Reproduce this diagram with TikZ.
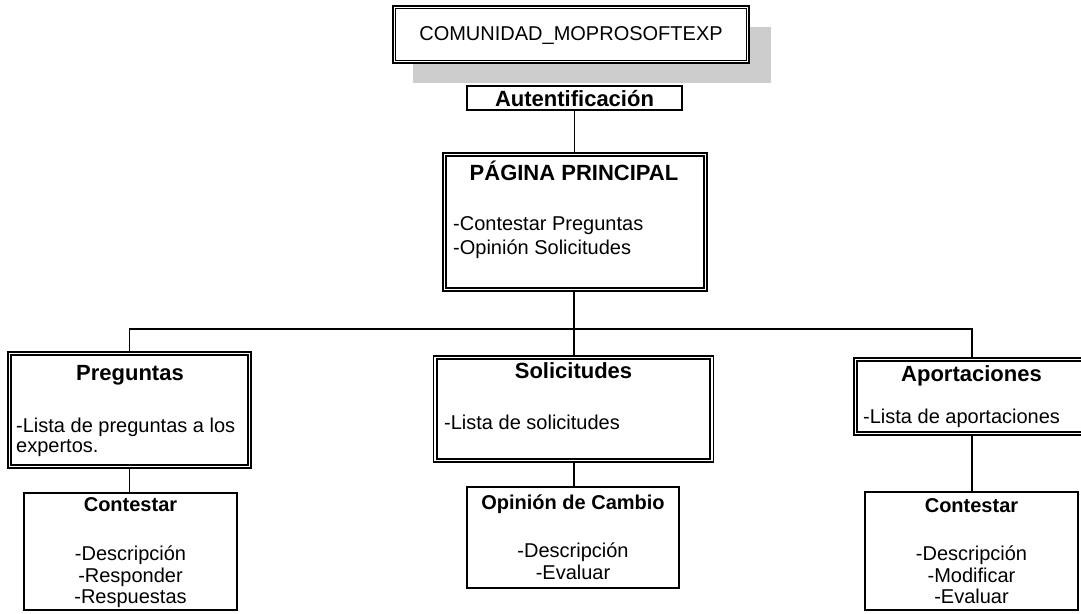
\documentclass[tikz,border=0pt]{standalone}
\usepackage{fontspec}
\setmainfont{Liberation Sans}
\begin{document}
\begin{tikzpicture}[x=1pt,y=-1pt,
  conn/.style={line width=1.7pt},
  outerbox/.style={draw, line width=1.3pt, fill=white, inner sep=0pt},
  innerline/.style={line width=1.8pt},
  plainbox/.style={draw, line width=1.8pt, fill=white, inner sep=0pt},
  reg/.style={inner sep=0pt, font=\fontsize{20}{24}\selectfont},
  bsm/.style={inner sep=0pt, font=\fontsize{20}{24}\selectfont\bfseries},
  bbig/.style={inner sep=0pt, font=\fontsize{22}{26}\selectfont\bfseries},
]
\useasboundingbox (0,0) rectangle (1081,613);

\coordinate (j) at (574,329);

% top box with shadow
\node[fill=gray!40, inner sep=0pt, minimum width=358pt, minimum height=56pt] (shadow) at (592,55) {};
\node[draw, line width=2.6pt, fill=white, inner sep=0pt, minimum width=356pt, minimum height=57pt] (top) at (571,34.5) {};
\draw[line width=1.2pt] ([xshift=4pt,yshift=-4pt]top.north west) rectangle ([xshift=-4pt,yshift=4pt]top.south east);
\node[reg, anchor=base] (ttop) at (571,40.5) {COMUNIDAD\_MOPROSOFTEXP};

% autentificacion
\node[draw, line width=2.6pt, fill=white, inner sep=0pt, minimum width=215pt, minimum height=24pt] (aut) at (574.5,98) {};
\node[bbig, anchor=base] (taut) at (574.5,106) {Autentificación};

% pagina principal
\node[outerbox, minimum width=264pt, minimum height=138pt] (pp) at (575,222) {};
\draw[innerline] ([xshift=4pt,yshift=-4pt]pp.north west) rectangle ([xshift=-4pt,yshift=4pt]pp.south east);
\node[bbig, anchor=base] (tpp) at (574,180) {PÁGINA PRINCIPAL};
\node[reg, anchor=base west] (tpp1) at (453,230) {-Contestar Preguntas};
\node[reg, anchor=base west] (tpp2) at (453,254.5) {-Opinión Solicitudes};

% second level
\node[outerbox, minimum width=243pt, minimum height=116pt] (preg) at (129.5,410) {};
\draw[innerline] ([xshift=4pt,yshift=-4pt]preg.north west) rectangle ([xshift=-4pt,yshift=4pt]preg.south east);
\node[bbig, anchor=base] (tpreg) at (130,380) {Preguntas};
\node[reg, anchor=base west] (tpreg1) at (16,432) {-Lista de preguntas a los};
\node[reg, anchor=base west] (tpreg2) at (16,452) {expertos.};

\node[outerbox, minimum width=280pt, minimum height=106pt] (sol) at (573.5,409) {};
\draw[innerline] ([xshift=4pt,yshift=-4pt]sol.north west) rectangle ([xshift=-4pt,yshift=4pt]sol.south east);
\node[bbig, anchor=base] (tsol) at (573.5,378) {Solicitudes};
\node[reg, anchor=base west] (tsol1) at (444,429) {-Lista de solicitudes};

\node[outerbox, minimum width=236pt, minimum height=77pt] (apor) at (972,396.5) {};
\draw[innerline] ([xshift=4pt,yshift=-4pt]apor.north west) rectangle ([xshift=-4pt,yshift=4pt]apor.south east);
\node[bbig, anchor=base] (tapor) at (971.5,381.5) {Aportaciones};
\node[reg, anchor=base west] (tapor1) at (863,423) {-Lista de aportaciones};

% third level
\node[plainbox, minimum width=213pt, minimum height=117pt] (cl) at (130.5,551.5) {};
\node[bsm, anchor=base] (tcl) at (130.5,511) {Contestar};
\node[reg, anchor=base] (tcl1) at (130.5,560) {-Descripción};
\node[reg, anchor=base] (tcl2) at (130.5,582) {-Responder};
\node[reg, anchor=base] (tcl3) at (130.5,603) {-Respuestas};

\node[plainbox, minimum width=212pt, minimum height=101pt] (op) at (573,537.5) {};
\node[bsm, anchor=base] (top1) at (573,509) {Opinión de Cambio};
\node[reg, anchor=base] (top2) at (573,557) {-Descripción};
\node[reg, anchor=base] (top3) at (573,579) {-Evaluar};

\node[plainbox, minimum width=213pt, minimum height=118pt] (cr) at (971.5,551) {};
\node[bsm, anchor=base] (tcr) at (971.5,512) {Contestar};
\node[reg, anchor=base] (tcr1) at (971.5,560) {-Descripción};
\node[reg, anchor=base] (tcr2) at (971.5,582) {-Modificar};
\node[reg, anchor=base] (tcr3) at (971.5,603) {-Evaluar};

% connectors
\draw[conn] (aut.south) -- (aut.south |- pp.north);
\draw[conn] (j |- pp.south) -- (j);
\draw[conn] (preg.north) |- (j) -| (apor.north);
\draw[conn] (j) -- (j |- sol.north);
\draw[conn] (preg.south) -- (preg.south |- cl.north);
\draw[conn] (j |- sol.south) -- (j |- op.north);
\draw[conn] (apor.south) -- (apor.south |- cr.north);
\end{tikzpicture}
\end{document}
